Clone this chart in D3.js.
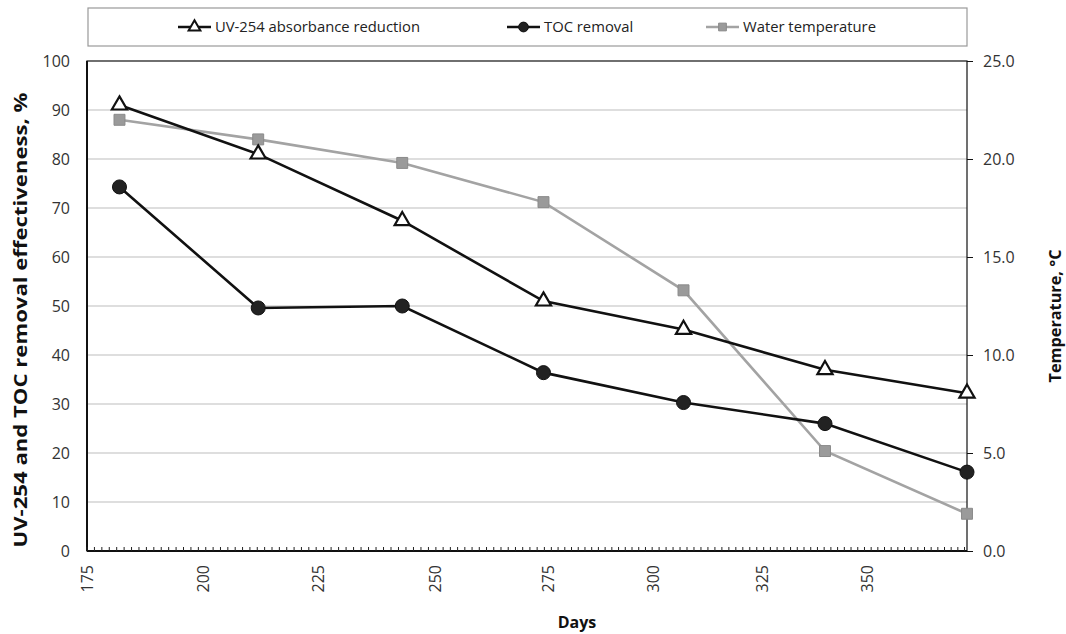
<!DOCTYPE html>
<html><head><meta charset="utf-8">
<script src="https://cdn.jsdelivr.net/npm/d3@7"></script>
<style>body{margin:0;background:#fff;} text{font-family:"Open Sans",sans-serif;}</style>
</head><body><svg id="c" width="1066" height="634"></svg>
<script>
const days = [182, 212, 243, 274, 307, 340, 374];
const uvReduction = [91.0, 81.0, 67.4, 51.0, 45.2, 37.0, 32.2];
const tocRemoval = [74.3, 49.6, 50.0, 36.4, 30.3, 26.0, 16.1];
const waterTemp = [22.0, 21.0, 19.8, 17.8, 13.3, 5.1, 1.9];
const xTickLabels = [175, 200, 225, 250, 275, 300, 325, 350];
const yLeftTicks = [0,10,20,30,40,50,60,70,80,90,100];
const yRightTicks = [0,5,10,15,20,25];
const seriesNames = ["UV-254 absorbance reduction", "TOC removal", "Water temperature"];

const L=87, R=967, T=61, B=551;
const svg=d3.select("#c");
// axis as drawn in the reference (label spacing not uniform)
const x=d3.scaleLinear().domain([175,200,225,250,275,300,325,350,374]).range([L,203,318,435,548,653,762,867,R]);
const yL=d3.scaleLinear().domain([0,100]).range([B,T]);
const yR=d3.scaleLinear().domain([0,25]).range([B,T]);

// gridlines
svg.append("g").selectAll("line").data(yLeftTicks.filter(d=>d>0 && d<100)).join("line")
  .attr("x1",L).attr("x2",R).attr("y1",d=>yL(d)).attr("y2",d=>yL(d))
  .attr("stroke","#bdbdbd").attr("stroke-width",1.2);
// frame
svg.append("rect").attr("x",L).attr("y",T).attr("width",R-L).attr("height",B-T)
  .attr("fill","none").attr("stroke","#111").attr("stroke-width",1.2);
svg.append("line").attr("x1",L).attr("x2",L).attr("y1",T).attr("y2",B).attr("stroke","#111").attr("stroke-width",2);
svg.append("line").attr("x1",L).attr("x2",R).attr("y1",B).attr("y2",B).attr("stroke","#111").attr("stroke-width",2);

// left axis
const gl=svg.append("g").attr("transform",`translate(${L},0)`)
  .call(d3.axisLeft(yL).tickValues(yLeftTicks).tickSize(0).tickPadding(17));
gl.select(".domain").remove();
gl.selectAll("text").attr("font-size",16).attr("fill","#333");
// right axis
const gr=svg.append("g").attr("transform",`translate(${R},0)`)
  .call(d3.axisRight(yR).tickValues(yRightTicks).tickSize(6).tickPadding(10).tickFormat(d3.format(".1f")));
gr.select(".domain").remove();
gr.selectAll("line").attr("stroke","#111");
gr.selectAll("text").attr("font-size",16).attr("fill","#333");
// x axis minor ticks
const minor=d3.range(175,374,1.6);
svg.append("g").selectAll("line").data(minor).join("line")
  .attr("x1",d=>x(d)).attr("x2",d=>x(d)).attr("y1",B).attr("y2",B-4)
  .attr("stroke","#222").attr("stroke-width",1);
const gx=svg.append("g").attr("transform",`translate(0,${B})`)
  .call(d3.axisBottom(x).tickValues(xTickLabels).tickSize(0).tickPadding(0));
gx.select(".domain").remove();
gx.selectAll("text").attr("font-size",16).attr("fill","#333")
  .attr("transform","translate(0,14) rotate(-90)").attr("text-anchor","end").attr("dy","0.35em").attr("x",0).attr("y",0);

// titles
svg.append("text").attr("transform","translate(27,320) rotate(-90)").attr("text-anchor","middle")
  .attr("font-size",17).attr("font-weight","bold").attr("fill","#111")
  .attr("textLength",455).attr("lengthAdjust","spacingAndGlyphs")
  .text("UV-254  and TOC removal effectiveness, %");
svg.append("text").attr("transform","translate(1061,316) rotate(-90)").attr("text-anchor","middle")
  .attr("font-size",16.5).attr("font-weight","bold").attr("fill","#111")
  .attr("textLength",133).attr("lengthAdjust","spacingAndGlyphs")
  .text("Temperature, \u00B0C");
svg.append("text").attr("x",577).attr("y",628).attr("text-anchor","middle")
  .attr("font-size",16).attr("font-weight","bold").attr("fill","#111").text("Days");

// lines
const line=(ys,sc)=>d3.line().x((d,i)=>x(days[i])).y((d)=>sc(d))(ys);
svg.append("path").attr("d",line(waterTemp,yR)).attr("fill","none").attr("stroke","#a3a3a3").attr("stroke-width",2.6);
svg.append("path").attr("d",line(uvReduction,yL)).attr("fill","none").attr("stroke","#111").attr("stroke-width",2.6);
svg.append("path").attr("d",line(tocRemoval,yL)).attr("fill","none").attr("stroke","#111").attr("stroke-width",2.6);

const tri=d3.symbol().type(d3.symbolTriangle).size(100);
const sq=d3.symbol().type(d3.symbolSquare).size(120);
const circ=d3.symbol().type(d3.symbolCircle).size(155);
svg.append("g").selectAll("path").data(waterTemp).join("path")
  .attr("d",sq).attr("transform",(d,i)=>`translate(${x(days[i])},${yR(d)})`)
  .attr("fill","#9a9a9a").attr("stroke","#8a8a8a").attr("stroke-width",1);
svg.append("g").selectAll("path").data(uvReduction).join("path")
  .attr("d",tri).attr("transform",(d,i)=>`translate(${x(days[i])},${yL(d)})`)
  .attr("fill","#fff").attr("stroke","#111").attr("stroke-width",2.2);
svg.append("g").selectAll("path").data(tocRemoval).join("path")
  .attr("d",circ).attr("transform",(d,i)=>`translate(${x(days[i])},${yL(d)})`)
  .attr("fill","#222").attr("stroke","#111").attr("stroke-width",1);

// legend
svg.append("rect").attr("x",88).attr("y",8).attr("width",879).attr("height",38)
  .attr("fill","#fff").attr("stroke","#999").attr("stroke-width",1.2);
const leg=[{x:178,col:"#111",sym:d3.symbol().type(d3.symbolTriangle),fill:"#fff",st:"#111",sw:2,s:60},
           {x:507,col:"#111",sym:d3.symbol().type(d3.symbolCircle),fill:"#222",st:"#111",sw:1,s:75},
           {x:706,col:"#a3a3a3",sym:d3.symbol().type(d3.symbolSquare),fill:"#9a9a9a",st:"#8a8a8a",sw:1,s:60}];
leg.forEach((g,i)=>{
  svg.append("line").attr("x1",g.x).attr("x2",g.x+33).attr("y1",27).attr("y2",27).attr("stroke",g.col).attr("stroke-width",2.6);
  svg.append("path").attr("d",g.sym.size(g.s)()).attr("transform",`translate(${g.x+16.5},27)`)
    .attr("fill",g.fill).attr("stroke",g.st).attr("stroke-width",g.sw);
  svg.append("text").attr("x",g.x+37).attr("y",27).attr("dy","0.35em").attr("font-size",14.8).attr("fill","#222").text(seriesNames[i]);
});
</script></body></html>
